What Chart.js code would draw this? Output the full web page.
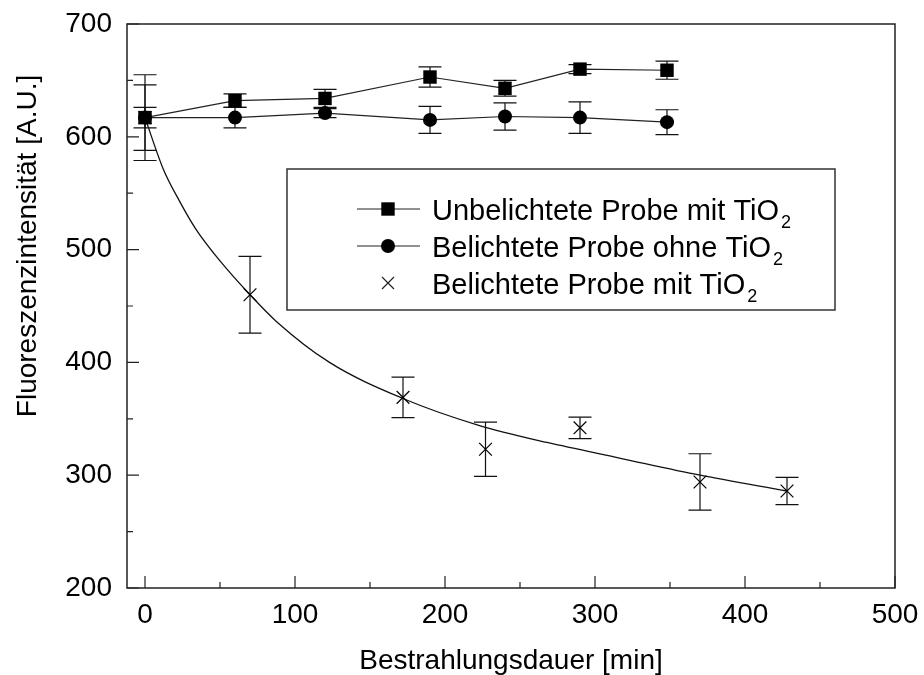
<!DOCTYPE html>
<html>
<head>
<meta charset="utf-8">
<script src="https://cdn.jsdelivr.net/npm/chart.js@4.4.0/dist/chart.umd.min.js"></script>
<style>
  html, body { margin: 0; padding: 0; background: #fff; }
</style>
</head>
<body>
<canvas id="chart" width="924" height="675"></canvas>
<script>
// measurement times [min]
const sampleTimes = [0, 60, 120, 190, 240, 290, 348];
const exposedTimes = [0, 70, 172, 227, 290, 370, 428];

// fluorescence [A.U.] and error
const unexposedTiO2 = [617, 632, 634, 653, 643, 660, 659];
const unexposedTiO2Err = [29, 6, 8, 9, 7, 4, 8];
const exposedNoTiO2 = [617, 617, 621, 615, 618, 617, 613];
const exposedNoTiO2Err = [9, 9, 4, 12, 12, 14, 11];
const exposedTiO2 = [617, 460, 369, 323, 342, 294, 286];
const exposedTiO2Err = [38, 34, 18, 24, 9.5, 25, 12];

// fitted decay curve
const fitTimes = [0, 12, 23, 34, 50, 70, 87, 123, 172, 223, 268, 317, 370, 428];
const fitValues = [617, 572, 543, 518, 490, 460, 437, 400, 368, 344, 329, 315, 300, 286];

const xTicks = [0, 100, 200, 300, 400, 500];
const xMinorTicks = [50, 150, 250, 350, 450];
const yTicks = [200, 300, 400, 500, 600, 700];
const yMinorTicks = [250, 350, 450, 550, 650];

const legendLabels = ['Unbelichtete Probe mit TiO', 'Belichtete Probe ohne TiO', 'Belichtete Probe mit TiO'];
const xTitle = 'Bestrahlungsdauer [min]';
const yTitle = 'Fluoreszenzintensität [A.U.]';

const FONT = '"Liberation Sans", Arial, sans-serif';

const toPoints = (xs, ys) => xs.map((x, i) => ({ x: x, y: ys[i] }));

const errorSets = [
  [sampleTimes, unexposedTiO2, unexposedTiO2Err],
  [sampleTimes, exposedNoTiO2, exposedNoTiO2Err],
  [exposedTimes, exposedTiO2, exposedTiO2Err]
];

function marker(ctx, style, x, y) {
  ctx.beginPath();
  if (style === 'rect') {
    ctx.rect(x - 6.7, y - 6.7, 13.4, 13.4);
    ctx.fill();
  } else if (style === 'circle') {
    ctx.arc(x, y, 7, 0, Math.PI * 2);
    ctx.fill();
  } else {
    const d = 6;
    ctx.moveTo(x - d, y - d); ctx.lineTo(x + d, y + d);
    ctx.moveTo(x - d, y + d); ctx.lineTo(x + d, y - d);
    ctx.stroke();
  }
}

const decorations = {
  id: 'decorations',
  beforeDatasetsDraw(chart) {
    const { ctx, scales: { x, y } } = chart;
    ctx.save();
    ctx.strokeStyle = '#111';
    ctx.lineWidth = 1.2;
    errorSets.forEach(([times, vals, errs]) => {
      times.forEach((t, i) => {
        const px = x.getPixelForValue(t);
        const top = y.getPixelForValue(vals[i] + errs[i]);
        const bot = y.getPixelForValue(vals[i] - errs[i]);
        ctx.beginPath();
        ctx.moveTo(px, top); ctx.lineTo(px, bot);
        ctx.moveTo(px - 11.5, top); ctx.lineTo(px + 11.5, top);
        ctx.moveTo(px - 11.5, bot); ctx.lineTo(px + 11.5, bot);
        ctx.stroke();
      });
    });
    ctx.restore();
  },
  afterDraw(chart) {
    const { ctx, chartArea: a, scales: { x, y } } = chart;
    ctx.save();
    // frame
    ctx.strokeStyle = '#222';
    ctx.lineWidth = 1.5;
    ctx.strokeRect(a.left, a.top, a.right - a.left, a.bottom - a.top);

    // inward ticks
    ctx.lineWidth = 1.2;
    ctx.beginPath();
    yTicks.forEach(v => { const p = y.getPixelForValue(v); ctx.moveTo(a.left, p); ctx.lineTo(a.left + 12, p); });
    yMinorTicks.forEach(v => { const p = y.getPixelForValue(v); ctx.moveTo(a.left, p); ctx.lineTo(a.left + 6, p); });
    xTicks.forEach(v => { const p = x.getPixelForValue(v); ctx.moveTo(p, a.bottom); ctx.lineTo(p, a.bottom - 12); });
    xMinorTicks.forEach(v => { const p = x.getPixelForValue(v); ctx.moveTo(p, a.bottom); ctx.lineTo(p, a.bottom - 6); });
    ctx.stroke();

    // axis titles
    ctx.fillStyle = '#000';
    ctx.font = '28px ' + FONT;
    ctx.textAlign = 'center';
    ctx.textBaseline = 'alphabetic';
    ctx.fillText(xTitle, (a.left + a.right) / 2, 669);
    ctx.save();
    ctx.translate(36, 246);
    ctx.rotate(-Math.PI / 2);
    ctx.fillText(yTitle, 0, 0);
    ctx.restore();

    // legend box
    ctx.strokeStyle = '#333';
    ctx.lineWidth = 1.5;
    ctx.strokeRect(287, 169, 548, 141);
    const rows = [209, 246, 283];
    const styles = ['rect', 'circle', 'cross'];
    ctx.textAlign = 'left';
    rows.forEach((ry, i) => {
      ctx.strokeStyle = '#222';
      ctx.fillStyle = '#000';
      ctx.lineWidth = 1.2;
      if (i < 2) {
        ctx.beginPath();
        ctx.moveTo(357, ry); ctx.lineTo(420, ry);
        ctx.stroke();
      }
      marker(ctx, styles[i], 388, ry);
      ctx.font = '29px ' + FONT;
      const base = ry + 10.5;
      ctx.fillText(legendLabels[i], 432, base);
      const w = ctx.measureText(legendLabels[i]).width;
      ctx.font = '18px ' + FONT;
      ctx.fillText('2', 432 + w + 2, base + 8);
    });
    ctx.restore();
  }
};

new Chart(document.getElementById('chart').getContext('2d'), {
  type: 'scatter',
  data: {
    datasets: [
      {
        label: legendLabels[0],
        data: toPoints(sampleTimes, unexposedTiO2),
        showLine: true,
        borderColor: '#222',
        borderWidth: 1.2,
        backgroundColor: '#000',
        pointStyle: 'rect',
        pointRadius: 9.5,
        pointBorderWidth: 0
      },
      {
        label: legendLabels[1],
        data: toPoints(sampleTimes, exposedNoTiO2),
        showLine: true,
        borderColor: '#222',
        borderWidth: 1.2,
        backgroundColor: '#000',
        pointStyle: 'circle',
        pointRadius: 7,
        pointBorderWidth: 0
      },
      {
        label: legendLabels[2],
        data: toPoints(exposedTimes, exposedTiO2),
        showLine: false,
        borderColor: '#000',
        borderWidth: 1.2,
        pointStyle: 'crossRot',
        pointRadius: 9,
        pointBorderWidth: 1.2
      },
      {
        label: 'Fit',
        data: toPoints(fitTimes, fitValues),
        showLine: true,
        borderColor: '#111',
        borderWidth: 1.3,
        pointRadius: 0,
        cubicInterpolationMode: 'monotone'
      }
    ]
  },
  options: {
    responsive: false,
    animation: false,
    layout: { padding: { top: 24, right: 29, left: 0, bottom: 0 } },
    plugins: { legend: { display: false }, tooltip: { enabled: false } },
    scales: {
      x: {
        type: 'linear',
        min: -12,
        max: 500,
        afterBuildTicks: s => { s.ticks = xTicks.map(v => ({ value: v })); },
        afterFit: s => { s.height = 87; s.paddingLeft = 0; s.paddingRight = 0; },
        grid: { display: false, drawTicks: false },
        border: { display: false },
        ticks: { color: '#000', font: { family: FONT, size: 28 }, padding: 10 }
      },
      y: {
        min: 200,
        max: 700,
        afterBuildTicks: s => { s.ticks = yTicks.map(v => ({ value: v })); },
        afterFit: s => { s.width = 127; s.paddingTop = 0; s.paddingBottom = 0; },
        grid: { display: false, drawTicks: false },
        border: { display: false },
        ticks: { color: '#000', font: { family: FONT, size: 28 }, padding: 15 }
      }
    }
  },
  plugins: [decorations]
});
</script>
</body>
</html>
